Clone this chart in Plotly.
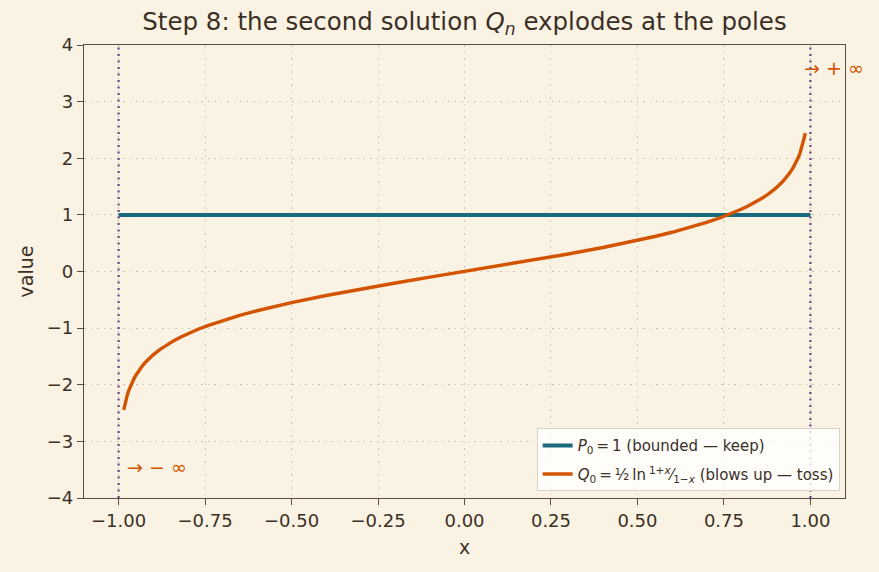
import plotly.graph_objects as go

# data
p_x = [-1.0, 1.0]
p_y = [1.0, 1.0]
q_x_neg = [-0.985, -0.983, -0.98, -0.975, -0.97, -0.965, -0.96, -0.955, -0.95, -0.94, -0.93,
           -0.92, -0.9, -0.88, -0.86, -0.84, -0.82, -0.8, -0.77, -0.74, -0.7, -0.65, -0.6,
           -0.55, -0.5, -0.4, -0.3, -0.2, -0.1]
q_y_neg = [-2.443, -2.380, -2.298, -2.185, -2.092, -2.014, -1.946, -1.886, -1.832, -1.738,
           -1.658, -1.589, -1.472, -1.376, -1.293, -1.221, -1.157, -1.099, -1.020, -0.950,
           -0.867, -0.775, -0.693, -0.618, -0.549, -0.424, -0.310, -0.203, -0.100]
q_x = q_x_neg + [0.0] + [-v for v in reversed(q_x_neg)]
q_y = q_y_neg + [0.0] + [-v for v in reversed(q_y_neg)]
poles = [-1.0, 1.0]
x_ticks = [-1.0, -0.75, -0.5, -0.25, 0.0, 0.25, 0.5, 0.75, 1.0]
y_ticks = [-4, -3, -2, -1, 0, 1, 2, 3, 4]

BG = "#faf3e3"
INK = "#3a3026"
SPINE = "#5a4d40"
TEAL = "#1a6a7e"
ORANGE = "#d35400"
PURPLE = "#654488"
GRID = "#c9c1b3"
FONT = "DejaVu Sans"
TS = "\u2009"

fig = go.Figure()
fig.add_trace(go.Scatter(x=p_x, y=p_y, mode="lines", line=dict(color=TEAL, width=4),
                         legendgroup="p",
                         name=f"<i>P</i><sub>0</sub>{TS}={TS}1 (bounded — keep)"))
fig.add_trace(go.Scatter(x=q_x, y=q_y, mode="lines", line=dict(color=ORANGE, width=3.4),
                         legendgroup="q",
                         name=f"<i>Q</i><sub>0</sub>{TS}={TS}½{TS}ln{TS}<sup>1+<i>x</i></sup>⁄<sub>1−<i>x</i></sub> (blows up — toss)"))

for px in poles:
    fig.add_shape(type="line", x0=px, x1=px, y0=0, y1=1, xref="x", yref="paper",
                  line=dict(color=PURPLE, width=2.2, dash="2px,4.5px"))

fig.add_annotation(x=poles[1], y=3.6, text="→ + ∞", showarrow=False, xanchor="left",
                   xshift=-8, font=dict(color=ORANGE, size=19, family=FONT))
fig.add_annotation(x=poles[0], y=-3.45, text="→ − ∞", showarrow=False, xanchor="left",
                   xshift=6, font=dict(color=ORANGE, size=19, family=FONT))

axis_common = dict(showline=True, linecolor=SPINE, linewidth=1.3, mirror=True,
                   ticks="outside", ticklen=6, tickcolor=SPINE, tickwidth=1.2,
                   showgrid=True, gridcolor=GRID, griddash="1.5px,5px", gridwidth=1.2,
                   zeroline=False, tickfont=dict(size=18, color=INK, family=FONT))

fig.update_xaxes(range=[-1.1, 1.1], tickvals=x_ticks, tickformat=".2f",
                 title=dict(text="x", font=dict(size=19, color=INK, family=FONT), standoff=10),
                 **axis_common)
fig.update_yaxes(range=[-4, 4], tickvals=y_ticks,
                 title=dict(text="value", font=dict(size=19, color=INK, family=FONT), standoff=8),
                 **axis_common)

fig.update_layout(
    width=879, height=572,
    paper_bgcolor=BG, plot_bgcolor=BG,
    margin=dict(l=84, r=34, t=45, b=74),
    title=dict(text="Step 8: the second solution <i>Q</i><sub><i>n</i></sub> explodes at the poles",
               x=(84 + 845) / 2 / 879, xanchor="center", y=0.962, yanchor="middle",
               font=dict(size=24.5, color=INK, family=FONT)),
    legend=dict(x=0.993, y=0.015, xanchor="right", yanchor="bottom",
                bgcolor="rgba(255,255,255,0.8)", bordercolor="#d8d2c8", borderwidth=1,
                font=dict(size=15, color=INK, family=FONT),
                traceorder="grouped", tracegroupgap=6),
    font=dict(family=FONT, color=INK),
    showlegend=True,
)

fig.write_html("out.html")
